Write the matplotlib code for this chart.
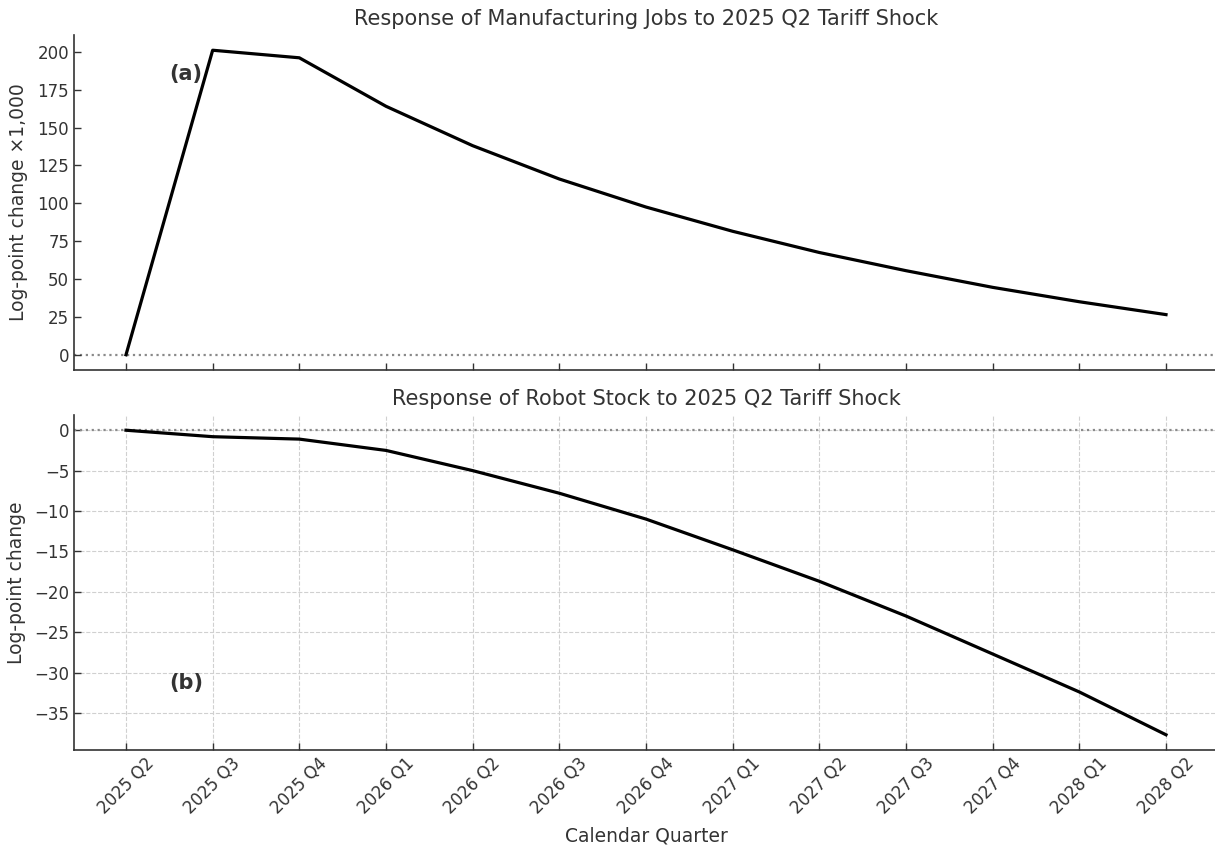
import matplotlib
matplotlib.use("Agg")
import matplotlib.pyplot as plt
import numpy as np

quarters = ["2025 Q2", "2025 Q3", "2025 Q4", "2026 Q1", "2026 Q2", "2026 Q3",
            "2026 Q4", "2027 Q1", "2027 Q2", "2027 Q3", "2027 Q4", "2028 Q1", "2028 Q2"]
jobs_response = [0, 201, 196, 164, 138, 116, 97.5, 81.5, 67.5, 55.5, 44.5, 35, 26.5]
robot_response = [0, -0.8, -1.1, -2.5, -5.0, -7.8, -11.0, -14.8, -18.7, -23.0, -27.7, -32.4, -37.7]

TEXT = "#333333"
plt.rcParams.update({
    "font.family": "DejaVu Sans",
    "text.color": TEXT,
    "axes.labelcolor": TEXT,
    "axes.edgecolor": TEXT,
    "xtick.color": TEXT,
    "ytick.color": TEXT,
    "xtick.direction": "in",
    "ytick.direction": "in",
    "font.size": 12,
})

fig = plt.figure(figsize=(12.15, 8.48), dpi=100)
W, H = 1215, 848
ax1 = fig.add_axes([74 / W, 1 - 370 / H, (1218 - 74) / W, 335 / H])
ax2 = fig.add_axes([74 / W, 1 - 750 / H, (1218 - 74) / W, 335 / H], sharex=ax1)

x = np.arange(len(quarters))

for ax in (ax1, ax2):
    ax.axhline(0, color="#8a8a8a", linestyle=":", linewidth=1.6, zorder=1)
    for s in ("top", "right"):
        ax.spines[s].set_visible(False)
    ax.spines["left"].set_linewidth(1.2)
    ax.spines["bottom"].set_linewidth(1.2)
    ax.tick_params(labelsize=12, length=5, width=1)

ax1.plot(x, jobs_response, color="black", linewidth=2.3, zorder=3)
ax1.set_title("Response of Manufacturing Jobs to 2025 Q2 Tariff Shock", fontsize=15, color=TEXT, pad=7)
ax1.set_ylabel("Log-point change ×1,000", fontsize=13.5, labelpad=7)
ax1.set_yticks(np.arange(0, 201, 25))
ax1.tick_params(axis="x", labelbottom=False)
ax1.text(0.083, 0.885, "(a)", transform=ax1.transAxes, fontsize=15, fontweight="bold",
         ha="left", va="center")

ax2.plot(x, robot_response, color="black", linewidth=2.3, zorder=3)
ax2.set_title("Response of Robot Stock to 2025 Q2 Tariff Shock", fontsize=15, color=TEXT, pad=7)
ax2.set_ylabel("Log-point change", fontsize=13.5, labelpad=6)
ax2.set_xlabel("Calendar Quarter", fontsize=13.5, labelpad=6)
ax2.set_yticks(np.arange(0, -36, -5))
ax2.grid(True, linestyle="--", color="#d0d0d0", linewidth=0.8)
ax2.set_axisbelow(True)
ax2.set_xticks(x)
ax2.set_xticklabels(quarters, rotation=45, ha="center")
ax2.text(0.083, 0.2, "(b)", transform=ax2.transAxes, fontsize=15, fontweight="bold",
         ha="left", va="center")

fig.savefig("out.png", dpi=100)
